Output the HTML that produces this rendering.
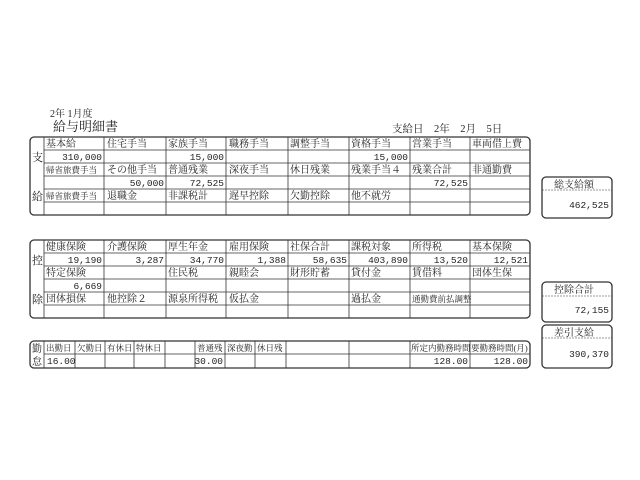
<!DOCTYPE html>
<html><head><meta charset="utf-8"><style>
html,body{margin:0;padding:0;background:#fff;width:640px;height:480px;overflow:hidden}
svg{display:block}
text{font-family:"Liberation Serif","Noto Serif CJK SC","Noto Sans CJK JP",serif;font-size:10px;fill:#222}
.n{font-family:"Liberation Mono","Noto Sans CJK JP",monospace;font-size:9.5px;text-anchor:end}
.s{font-size:8.5px}
</style></head><body>
<svg width="640" height="480" viewBox="0 0 640 480" stroke="#333" fill="none">
<g stroke="none">
<text x="50" y="117" style="font-size:10px">2年 1月度</text>
<text x="53" y="131" style="font-size:13px">給与明細書</text>
<text x="392" y="132" style="font-size:10.5px">支給日　2年　2月　5日</text>
</g>
<rect x="30" y="137" width="500" height="78" rx="4" stroke-width="1.3"/>
<g stroke-width="0.8">
<line x1="44" y1="137" x2="44" y2="215"/>
<line x1="104" y1="137" x2="104" y2="215"/><line x1="166" y1="137" x2="166" y2="215"/>
<line x1="226" y1="137" x2="226" y2="215"/><line x1="288" y1="137" x2="288" y2="215"/>
<line x1="349" y1="137" x2="349" y2="215"/><line x1="410" y1="137" x2="410" y2="215"/>
<line x1="470" y1="137" x2="470" y2="215"/>
<line x1="44" y1="150" x2="530" y2="150"/><line x1="44" y1="163" x2="530" y2="163"/>
<line x1="44" y1="176" x2="530" y2="176"/><line x1="44" y1="189" x2="530" y2="189"/>
<line x1="44" y1="202" x2="530" y2="202"/>
</g>
<g stroke="none">
<text x="32" y="161" style="font-size:11px">支</text><text x="32" y="200" style="font-size:11px">給</text>
<text x="46" y="147">基本給</text><text x="107" y="147">住宅手当</text><text x="168" y="147">家族手当</text><text x="229" y="147">職務手当</text><text x="290" y="147">調整手当</text><text x="351" y="147">資格手当</text><text x="412" y="147">営業手当</text><text x="472" y="147">車両借上費</text>
<text class="n" x="102" y="160">310,000</text><text class="n" x="224" y="160">15,000</text><text class="n" x="408" y="160">15,000</text>
<text class="s" x="46" y="173">帰省旅費手当</text><text x="107" y="173">その他手当</text><text x="168" y="173">普通残業</text><text x="229" y="173">深夜手当</text><text x="290" y="173">休日残業</text><text x="351" y="173">残業手当４</text><text x="412" y="173">残業合計</text><text x="472" y="173">非通勤費</text>
<text class="n" x="164" y="186">50,000</text><text class="n" x="224" y="186">72,525</text><text class="n" x="468" y="186">72,525</text>
<text class="s" x="46" y="199">帰省旅費手当</text><text x="107" y="199">退職金</text><text x="168" y="199">非課税計</text><text x="229" y="199">遅早控除</text><text x="290" y="199">欠勤控除</text><text x="351" y="199">他不就労</text>
</g>
<rect x="30" y="240" width="500" height="78" rx="4" stroke-width="1.3"/>
<g stroke-width="0.8">
<line x1="44" y1="240" x2="44" y2="318"/>
<line x1="104" y1="240" x2="104" y2="318"/><line x1="166" y1="240" x2="166" y2="318"/>
<line x1="226" y1="240" x2="226" y2="318"/><line x1="288" y1="240" x2="288" y2="318"/>
<line x1="349" y1="240" x2="349" y2="318"/><line x1="410" y1="240" x2="410" y2="318"/>
<line x1="470" y1="240" x2="470" y2="318"/>
<line x1="44" y1="253" x2="530" y2="253"/><line x1="44" y1="266" x2="530" y2="266"/>
<line x1="44" y1="279" x2="530" y2="279"/><line x1="44" y1="292" x2="530" y2="292"/>
<line x1="44" y1="305" x2="530" y2="305"/>
</g>
<g stroke="none">
<text x="32" y="264" style="font-size:11px">控</text><text x="32" y="303" style="font-size:11px">除</text>
<text x="46" y="250">健康保険</text><text x="107" y="250">介護保険</text><text x="168" y="250">厚生年金</text><text x="229" y="250">雇用保険</text><text x="290" y="250">社保合計</text><text x="351" y="250">課税対象</text><text x="412" y="250">所得税</text><text x="472" y="250">基本保険</text>
<text class="n" x="102" y="263">19,190</text><text class="n" x="164" y="263">3,287</text><text class="n" x="224" y="263">34,770</text><text class="n" x="286" y="263">1,388</text><text class="n" x="347" y="263">58,635</text><text class="n" x="408" y="263">403,890</text><text class="n" x="468" y="263">13,520</text><text class="n" x="528" y="263">12,521</text>
<text x="46" y="276">特定保険</text><text x="168" y="276">住民税</text><text x="229" y="276">親睦会</text><text x="290" y="276">財形貯蓄</text><text x="351" y="276">貸付金</text><text x="412" y="276">賃借料</text><text x="472" y="276">団体生保</text>
<text class="n" x="102" y="289">6,669</text>
<text x="46" y="302">団体損保</text><text x="107" y="302">他控除２</text><text x="168" y="302">源泉所得税</text><text x="229" y="302">仮払金</text><text x="351" y="302">過払金</text><text class="s" x="412" y="302">通勤費前払調整</text>
</g>
<rect x="30" y="341" width="500" height="27" rx="4" stroke-width="1.3"/>
<g stroke-width="0.8">
<line x1="44" y1="341" x2="44" y2="368"/><line x1="75" y1="341" x2="75" y2="368"/>
<line x1="105" y1="341" x2="105" y2="368"/><line x1="134" y1="341" x2="134" y2="368"/>
<line x1="165" y1="341" x2="165" y2="368"/><line x1="195" y1="341" x2="195" y2="368"/>
<line x1="225" y1="341" x2="225" y2="368"/><line x1="255" y1="341" x2="255" y2="368"/>
<line x1="286" y1="341" x2="286" y2="368"/><line x1="349" y1="341" x2="349" y2="368"/>
<line x1="410" y1="341" x2="410" y2="368"/><line x1="470" y1="341" x2="470" y2="368"/>
<line x1="44" y1="354" x2="530" y2="354"/>
</g>
<g stroke="none">
<text x="32" y="352" style="font-size:10px">勤</text><text x="32" y="365" style="font-size:10px">怠</text>
<text class="s" x="46" y="351">出勤日</text><text class="s" x="77" y="351">欠勤日</text><text class="s" x="107" y="351">有休日</text><text class="s" x="136" y="351">特休日</text><text class="s" x="197" y="351">普通残</text><text class="s" x="227" y="351">深夜勤</text><text class="s" x="257" y="351">休日残</text><text class="s" x="411" y="351">所定内勤務時間</text><text class="s" x="471" y="351">要勤務時間(月)</text>
<text class="n" x="47" y="364" style="text-anchor:start">16.00</text><text class="n" x="223" y="364">30.00</text><text class="n" x="468" y="364">128.00</text><text class="n" x="528" y="364">128.00</text>
</g>
<rect x="542" y="177" width="70" height="41" rx="4" stroke-width="1.3"/>
<line x1="542" y1="190" x2="612" y2="190" stroke-width="0.6" stroke-dasharray="2,1"/>
<rect x="542" y="282" width="70" height="40" rx="4" stroke-width="1.3"/>
<line x1="542" y1="296" x2="612" y2="296" stroke-width="0.6" stroke-dasharray="2,1"/>
<rect x="542" y="325" width="70" height="43" rx="4" stroke-width="1.3"/>
<line x1="542" y1="338" x2="612" y2="338" stroke-width="0.6" stroke-dasharray="2,1"/>
<g stroke="none">
<text x="554" y="188">総支給額</text><text class="n" x="609" y="208">462,525</text>
<text x="554" y="293">控除合計</text><text class="n" x="609" y="313">72,155</text>
<text x="554" y="336">差引支給</text><text class="n" x="609" y="357">390,370</text>
</g>
</svg>
</body></html>
